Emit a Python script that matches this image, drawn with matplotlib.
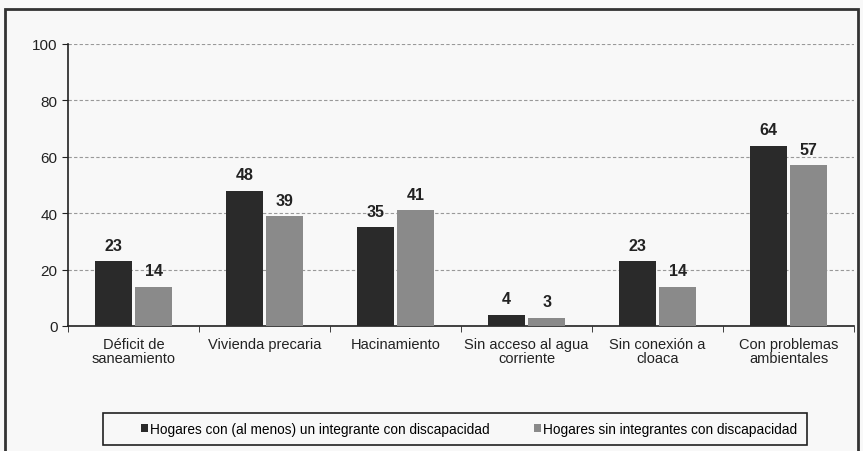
import numpy as np
import matplotlib.pyplot as plt
from matplotlib.patches import Rectangle

categorias = ["Déficit de\nsaneamiento", "Vivienda precaria", "Hacinamiento",
              "Sin acceso al agua\ncorriente", "Sin conexión a\ncloaca",
              "Con problemas\nambientales"]
con_disc = [23, 48, 35, 4, 23, 64]
sin_disc = [14, 39, 41, 3, 14, 57]
serie_con = "Hogares con (al menos) un integrante con discapacidad"
serie_sin = "Hogares sin integrantes con discapacidad"

plt.rcParams['font.family'] = ['Liberation Sans', 'DejaVu Sans']

fig = plt.figure(figsize=(8.63, 4.52), dpi=100)
fig.patch.set_facecolor('#f8f8f8')
ax = fig.add_axes([68 / 863, 1 - 327 / 452, (854 - 68) / 863, (327 - 45) / 452])
ax.set_facecolor('#f8f8f8')

# outer frame
fig.patches.append(Rectangle((5 / 863, -0.05), 853 / 863, 1.05 - 10 / 452,
                             transform=fig.transFigure, fill=False,
                             edgecolor='#333333', linewidth=2))
# legend box
fig.patches.append(Rectangle((103 / 863, 1 - 446 / 452), 704 / 863, 32 / 452,
                             transform=fig.transFigure, fill=False,
                             edgecolor='#222222', linewidth=1.2))

x = np.arange(len(categorias))
w = 0.28
gap = 0.015
b1 = ax.bar(x - w / 2 - gap, con_disc, w, color='#2a2a2a', label=serie_con, zorder=3)
b2 = ax.bar(x + w / 2 + gap, sin_disc, w, color='#8a8a8a', label=serie_sin, zorder=3)

for bars in (b1, b2):
    for r in bars:
        ax.text(r.get_x() + r.get_width() / 2, r.get_height() + 3, f"{r.get_height():.0f}",
                ha='center', va='bottom', fontsize=11.5, fontweight='bold', color='#222222')

ax.set_xlim(-0.5, len(categorias) - 0.5)
ax.set_ylim(0, 100)
ax.set_yticks(range(0, 101, 20))
ax.yaxis.grid(True, linestyle=(0, (3, 2)), color='#999999', linewidth=0.8, zorder=0)
ax.set_xticks(x)
ax.set_xticklabels(categorias, fontsize=10.5, color='#222222', linespacing=1.0)
ax.tick_params(axis='x', length=0, pad=8)
ax.set_xticks(np.arange(-0.5, len(categorias), 1), minor=True)
ax.tick_params(axis='x', which='minor', length=4, direction='out', color='#222222')
ax.tick_params(axis='y', labelsize=11, length=4, direction='out', color='#222222',
               labelcolor='#222222')
for s in ('top', 'right'):
    ax.spines[s].set_visible(False)
for s in ('left', 'bottom'):
    ax.spines[s].set_color('#222222')
    ax.spines[s].set_linewidth(1.2)

fig.legend(loc='center left', bbox_to_anchor=(141 / 863, 1 - 430 / 452), ncol=2,
           fontsize=9.8, frameon=False, handlelength=0.5, handleheight=0.5,
           handletextpad=0.15, columnspacing=3.3, borderpad=0, borderaxespad=0)

fig.savefig('out.png', dpi=100, facecolor=fig.get_facecolor())
